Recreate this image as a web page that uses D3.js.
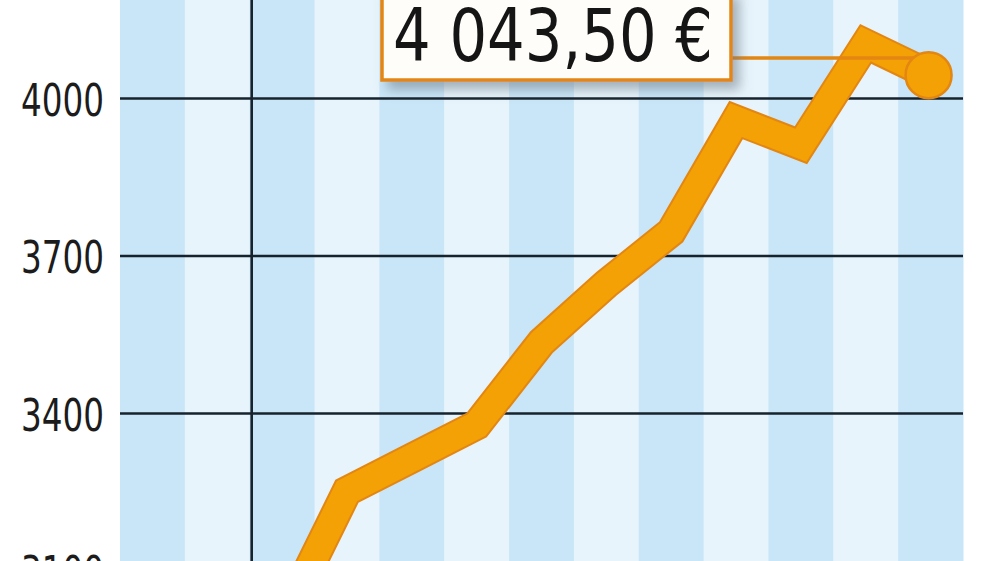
<!DOCTYPE html>
<html>
<head>
<meta charset="utf-8">
<script src="https://cdn.jsdelivr.net/npm/d3@7"></script>
<style>
  html, body { margin: 0; padding: 0; background: #fff; }
  svg { display: block; }
  .axis text { font-family: "Liberation Sans Narrow", "DejaVu Sans Condensed", sans-serif; font-size: 44px; fill: #1c1c1c; }
  .axis line { stroke: #16222c; stroke-width: 2.6; }
  .axis .domain { display: none; }
</style>
</head>
<body>
<svg id="chart" width="1000" height="561"></svg>
<script>
// months since start of period (stripe centres are at .5)
var months = [2.5, 3.5, 4.5, 5.5, 6.5, 7.5, 8.5, 9.5, 10.5, 11.5, 12.5];
var values = [3000, 3251, 3314, 3377, 3535, 3646, 3745, 3958, 3910, 4103, 4043.5];
var yTicks = [3100, 3400, 3700, 4000];
var stripeCount = 13;
var yearBreak = 2;

var svg = d3.select("#chart"),
    width = 1000,
    height = 561;

var x = d3.scaleLinear().domain([0, stripeCount]).range([120, 963]);
var y = d3.scaleLinear().domain([3100, 4000]).range([570.5, 98]);

var euro = d3.formatLocale({decimal: ",", thousands: " ", grouping: [3], currency: ["", " €"]});
var lastLabel = euro.format("$,.2f")(values[values.length - 1]);

var defs = svg.append("defs");
var shadow = defs.append("filter").attr("id", "shadow")
    .attr("x", "-10%").attr("y", "-20%").attr("width", "130%").attr("height", "150%");
shadow.append("feDropShadow")
    .attr("dx", 7).attr("dy", 8).attr("stdDeviation", 6)
    .attr("flood-color", "#6c7a86").attr("flood-opacity", 0.55);

// alternating stripes
svg.append("g").selectAll("rect")
    .data(d3.range(stripeCount))
  .enter().append("rect")
    .attr("x", function(d) { return x(d); })
    .attr("y", 0)
    .attr("width", x(1) - x(0) + 0.5)
    .attr("height", height)
    .attr("fill", function(d) { return d % 2 === 0 ? "#c9e6f8" : "#e7f4fc"; });

// gridlines + labels
svg.append("g")
    .attr("class", "axis")
    .attr("transform", "translate(" + x(0) + ",0)")
    .call(d3.axisLeft(y).tickValues(yTicks).tickFormat(d3.format("d"))
      .tickSize(-(x(stripeCount) - x(0))).tickPadding(16))
    .selectAll("text")
      .attr("dy", "0.39em")
      .attr("textLength", 83)
      .attr("lengthAdjust", "spacingAndGlyphs");

// year separator
svg.append("line")
    .attr("x1", x(yearBreak) + 2).attr("x2", x(yearBreak) + 2)
    .attr("y1", 0).attr("y2", height)
    .attr("stroke", "#16222c").attr("stroke-width", 2.6);

var line = d3.line()
    .x(function(d, i) { return x(months[i]); })
    .y(function(d) { return y(d); });

svg.append("path")
    .datum(values)
    .attr("d", line)
    .attr("fill", "none")
    .attr("stroke", "#e38612")
    .attr("stroke-width", 31)
    .attr("stroke-linejoin", "miter")
    .attr("stroke-miterlimit", 10);

svg.append("path")
    .datum(values)
    .attr("d", line)
    .attr("fill", "none")
    .attr("stroke", "#f3a104")
    .attr("stroke-width", 27)
    .attr("stroke-linejoin", "miter")
    .attr("stroke-miterlimit", 10);

var lastX = x(months[months.length - 1]),
    lastY = y(values[values.length - 1]);

// callout box
var box = {left: 382, right: 731, top: -10, bottom: 80};

svg.append("line")
    .attr("x1", box.right).attr("x2", lastX - 12)
    .attr("y1", 58).attr("y2", 58)
    .attr("stroke", "#e38612").attr("stroke-width", 3.5);

svg.append("circle")
    .attr("cx", lastX - 2).attr("cy", lastY)
    .attr("r", 23)
    .attr("fill", "#f3a104")
    .attr("stroke", "#e38612")
    .attr("stroke-width", 2.5);

svg.append("rect")
    .attr("x", box.left).attr("y", box.top)
    .attr("width", box.right - box.left).attr("height", box.bottom - box.top)
    .attr("fill", "#fffdf9")
    .attr("stroke", "#e38612")
    .attr("stroke-width", 3.5)
    .attr("filter", "url(#shadow)");

svg.append("text")
    .attr("x", 393).attr("y", 61)
    .attr("textLength", 320)
    .attr("lengthAdjust", "spacingAndGlyphs")
    .style("font-family", "'DejaVu Sans Condensed', 'DejaVu Sans', sans-serif")
    .style("font-size", "73px")
    .attr("fill", "#151515")
    .text(lastLabel);
</script>
</body>
</html>
